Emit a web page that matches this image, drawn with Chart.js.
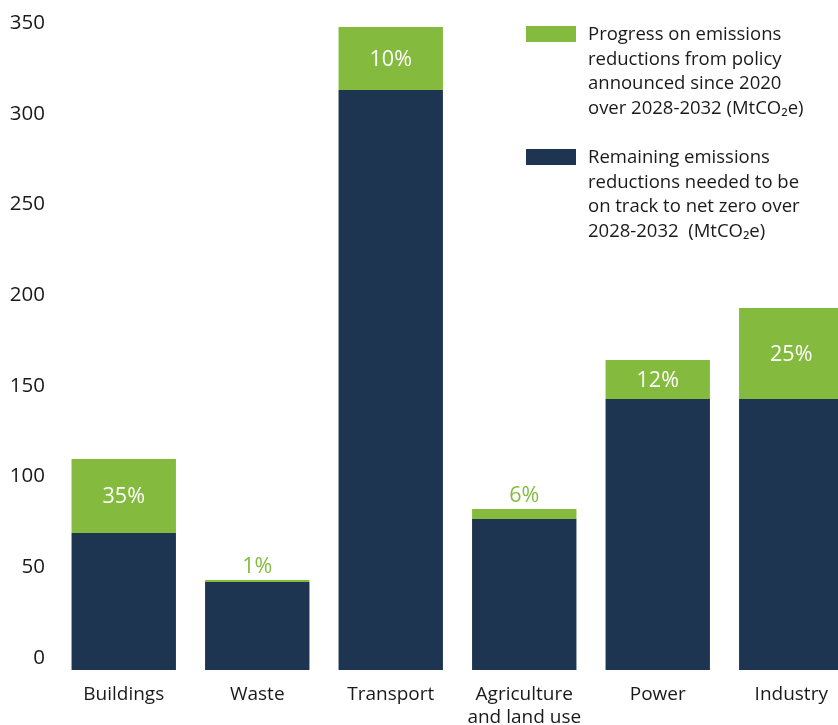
<!DOCTYPE html>
<html>
<head>
<meta charset="utf-8">
<script src="https://cdn.jsdelivr.net/npm/chart.js@4"></script>
<style>
  html, body { margin: 0; padding: 0; overflow: hidden; background: #fff; }
  #wrap { width: 858px; height: 725px; }
</style>
</head>
<body>
<div id="wrap"><canvas id="myChart"></canvas></div>
<script>
var sectors = ['Buildings', 'Waste', 'Transport', ['Agriculture', 'and land use'], 'Power', 'Industry'];
var remaining = [75.5, 48.5, 319.7, 83.2, 149.4, 149.4];
var progress = [40.8, 1.1, 34.8, 5.5, 21.5, 50.2];
var shares = ['35%', '1%', '10%', '6%', '12%', '25%'];
var yTicks = [0, 50, 100, 150, 200, 250, 300, 350];

var GREEN = '#84bb3f';
var NAVY = '#1e3552';
var FONT = "'Open Sans', sans-serif";

// percent labels on the green part
var shareLabels = {
    id: 'shareLabels',
    afterDatasetsDraw: function(chart) {
        var ctx = chart.ctx;
        var meta = chart.getDatasetMeta(1);
        ctx.save();
        ctx.font = '21.5px ' + FONT;
        ctx.textAlign = 'center';
        meta.data.forEach(function(bar, i) {
            var h = bar.base - bar.y;
            if (h > 30) {
                ctx.fillStyle = '#ffffff';
                ctx.textBaseline = 'middle';
                ctx.fillText(shares[i], bar.x, (bar.y + bar.base) / 2 + 1);
            } else {
                ctx.fillStyle = GREEN;
                ctx.textBaseline = 'bottom';
                ctx.fillText(shares[i], bar.x, bar.y - 2);
            }
        });
        ctx.restore();
    }
};

// legend block in the top right
var sideLegend = {
    id: 'sideLegend',
    afterDraw: function(chart) {
        var ctx = chart.ctx;
        var items = [
            { color: GREEN, y: 26, lines: ['Progress on emissions', 'reductions from policy', 'announced since 2020', 'over 2028-2032 (MtCO\u2082e)'] },
            { color: NAVY, y: 149, lines: ['Remaining emissions', 'reductions needed to be', 'on track to net zero over', '2028-2032  (MtCO\u2082e)'] }
        ];
        ctx.save();
        ctx.font = '18.5px ' + FONT;
        ctx.textAlign = 'left';
        ctx.textBaseline = 'middle';
        items.forEach(function(it) {
            ctx.fillStyle = it.color;
            ctx.fillRect(526, it.y, 50, 16);
            ctx.fillStyle = '#1a1a1a';
            it.lines.forEach(function(line, j) {
                ctx.fillText(line, 588, it.y + 9 + j * 24.5);
            });
        });
        ctx.restore();
    }
};

var ctx = document.getElementById('myChart').getContext('2d');
var MegaChart = new Chart(ctx, {
    type: 'bar',
    data: {
        labels: sectors,
        datasets: [{
            label: 'Remaining emissions reductions needed',
            backgroundColor: NAVY,
            data: remaining
        }, {
            label: 'Progress on emissions reductions',
            backgroundColor: GREEN,
            data: progress
        }]
    },
    options: {
        responsive: true,
        maintainAspectRatio: false,
        animation: false,
        events: [],
        layout: {
            padding: { top: 17, left: 0, right: 0, bottom: 0 }
        },
        datasets: {
            bar: { categoryPercentage: 1, barPercentage: 0.782 }
        },
        plugins: {
            legend: { display: false },
            tooltip: { enabled: false }
        },
        scales: {
            x: {
                stacked: true,
                grid: { display: false, drawTicks: false },
                border: { display: false },
                ticks: {
                    color: '#1a1a1a',
                    font: { family: FONT, size: 19 },
                    padding: 13,
                    maxRotation: 0,
                    autoSkip: false
                },
                afterFit: function(scale) { scale.height = 55; }
            },
            y: {
                stacked: true,
                min: 0,
                max: 360,
                grid: { display: false, drawTicks: false },
                border: { display: false },
                afterBuildTicks: function(scale) {
                    scale.ticks = yTicks.map(function(v) { return { value: v }; });
                },
                ticks: {
                    color: '#1a1a1a',
                    font: { family: FONT, size: 20.5 },
                    padding: 12,
                    labelOffset: -12
                },
                afterFit: function(scale) {
                    scale.width = 57;
                    scale.paddingTop = 0;
                    scale.paddingBottom = 0;
                }
            }
        }
    },
    plugins: [shareLabels, sideLegend]
});
</script>
</body>
</html>
